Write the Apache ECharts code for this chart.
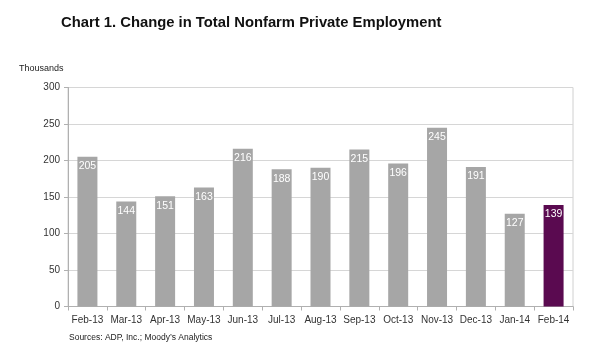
<!DOCTYPE html>
<html><head><meta charset="utf-8">
<script src="https://cdn.jsdelivr.net/npm/echarts@6/dist/echarts.min.js"></script>
<style>html,body{margin:0;padding:0;background:#fff}#c{width:600px;height:358px}</style>
</head><body><div id="c"></div>
<script>
const categories = ['Feb-13','Mar-13','Apr-13','May-13','Jun-13','Jul-13','Aug-13','Sep-13','Oct-13','Nov-13','Dec-13','Jan-14','Feb-14'];
const values = [205,144,151,163,216,188,190,215,196,245,191,127,139];
const yTicks = [0,50,100,150,200,250,300];
const highlightIndex = 12;

const chart = echarts.init(document.getElementById('c'));
chart.setOption({
  animation: false,
  backgroundColor: '#fff',
  title: [
    {text: 'Chart 1. Change in Total Nonfarm Private Employment', left: 61, top: 15, padding: 0,
     textStyle: {fontFamily: 'Liberation Sans, Arial', fontSize: 14.8, fontWeight: 'bold', color: '#111'}},
    {text: 'Thousands', left: 19, top: 64, padding: 0, textStyle: {fontFamily: 'Liberation Sans, Arial', fontSize: 9, fontWeight: 'normal', color: '#222'}},
    {text: 'Sources: ADP, Inc.; Moody\u2019s Analytics', left: 69, top: 333, padding: 0, textStyle: {fontFamily: 'Liberation Sans, Arial', fontSize: 8.5, fontWeight: 'normal', color: '#222'}}
  ],
  grid: {left: 68, right: 27, top: 87.5, bottom: 51.5, show: true, borderColor: '#d0d0d0', borderWidth: 1},
  xAxis: {
    type: 'category', data: categories,
    axisLine: {lineStyle: {color: '#b0b0b0'}},
    axisTick: {show: true, alignWithLabel: false, length: 4, lineStyle: {color: '#b0b0b0'}},
    axisLabel: {fontFamily: 'Liberation Sans, Arial', fontSize: 10, color: '#333', margin: 9, interval: 0}
  },
  yAxis: {
    type: 'value', min: 0, max: 300, interval: 50,
    axisLine: {show: true, lineStyle: {color: '#b0b0b0'}},
    axisTick: {show: true, length: 4, lineStyle: {color: '#b0b0b0'}},
    axisLabel: {fontFamily: 'Liberation Sans, Arial', fontSize: 10, color: '#333', margin: 8,
      formatter: v => yTicks.includes(v) ? String(v) : ''},
    splitLine: {lineStyle: {color: '#d6d6d6'}}
  },
  series: [{
    type: 'bar', barWidth: 20,
    data: values.map((v, i) => ({value: v, itemStyle: {color: i === highlightIndex ? '#5a0a50' : '#a6a6a6'}})),
    label: {show: true, position: 'insideTop', distance: 4, color: '#fff', fontFamily: 'Liberation Sans, Arial', fontSize: 10.5}
  }]
});
</script></body></html>
